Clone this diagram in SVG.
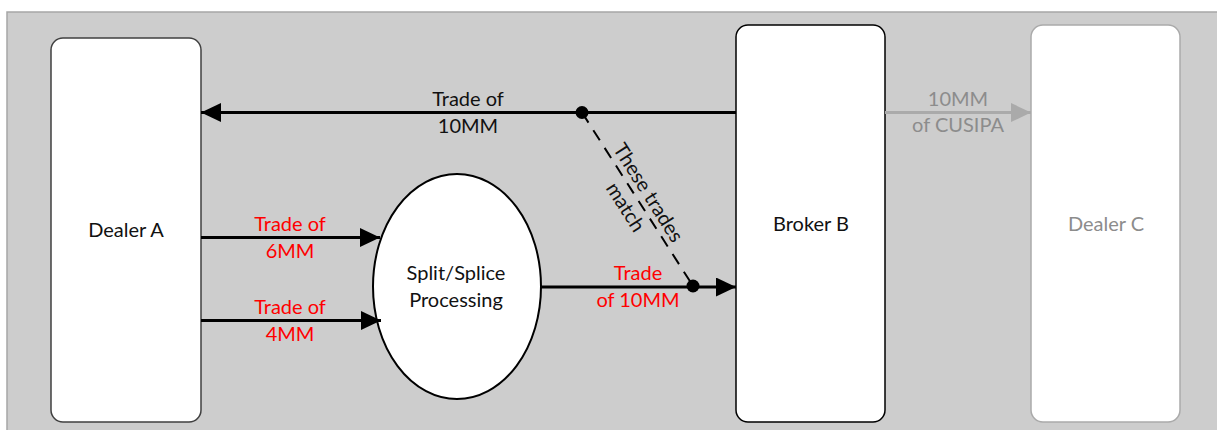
<svg xmlns="http://www.w3.org/2000/svg" width="1217" height="430" viewBox="0 0 1217 430">
  <style>
    .lbl { font-family: Lato, "Open Sans", "Liberation Sans", sans-serif; font-size: 20px; text-anchor: middle; }
    .dark { fill: #111111; }
    .red { fill: #ff0000; }
    .muted { fill: #8c8c8c; }
    .box { fill: #ffffff; stroke-width: 1.5; }
    .flow { stroke: #000000; stroke-width: 3; fill: none; }
  </style>
  <defs>
    <marker id="arrow" markerUnits="userSpaceOnUse" markerWidth="21" markerHeight="20" refX="20" refY="9.5" orient="auto">
      <path d="M0,0 L20,9.5 L0,19 Z" fill="#000000"/>
    </marker>
    <marker id="arrowGrey" markerUnits="userSpaceOnUse" markerWidth="21" markerHeight="20" refX="20" refY="9.5" orient="auto">
      <path d="M0,0 L20,9.5 L0,19 Z" fill="#aaaaaa"/>
    </marker>
  </defs>

  <!-- canvas -->
  <rect x="0" y="0" width="1217" height="430" fill="#ffffff"/>
  <rect x="7" y="12" width="1220" height="430" fill="#cdcdcd" stroke="#a6a6a6" stroke-width="1.5"/>

  <!-- nodes -->
  <g id="dealer-a">
    <rect class="box" x="51" y="38" width="150" height="384" rx="12" stroke="#404040"/>
    <text class="lbl dark" x="126" y="237">Dealer A</text>
  </g>
  <g id="split-splice">
    <ellipse cx="457" cy="286.5" rx="84" ry="112.5" fill="#ffffff" stroke="#000000" stroke-width="2"/>
    <text class="lbl dark" x="456" y="280">Split/Splice</text>
    <text class="lbl dark" x="456" y="307">Processing</text>
  </g>
  <g id="broker-b">
    <rect class="box" x="736" y="25" width="149" height="397" rx="12" stroke="#000000"/>
    <text class="lbl dark" x="811" y="231">Broker B</text>
  </g>
  <g id="dealer-c">
    <rect class="box" x="1031" y="25" width="149" height="397" rx="12" stroke="#aaaaaa"/>
    <text class="lbl muted" x="1106" y="231">Dealer C</text>
  </g>

  <!-- connectors -->
  <g id="connectors">
    <!-- Broker B back to Dealer A -->
    <line class="flow" x1="736" y1="112.5" x2="201" y2="112.5" marker-end="url(#arrow)"/>
    <text class="lbl dark" x="468" y="106">Trade of</text>
    <text class="lbl dark" x="468" y="133">10MM</text>

    <!-- Dealer A into processing -->
    <line class="flow" x1="201" y1="237.5" x2="380" y2="237.5" marker-end="url(#arrow)"/>
    <text class="lbl red" x="290" y="231">Trade of</text>
    <text class="lbl red" x="290" y="258">6MM</text>
    <line class="flow" x1="201" y1="320.5" x2="381" y2="320.5" marker-end="url(#arrow)"/>
    <text class="lbl red" x="290" y="314">Trade of</text>
    <text class="lbl red" x="290" y="341">4MM</text>

    <!-- processing to Broker B -->
    <line class="flow" x1="541" y1="287" x2="736" y2="287" marker-end="url(#arrow)"/>
    <text class="lbl red" x="638" y="280">Trade</text>
    <text class="lbl red" x="638" y="307">of 10MM</text>

    <!-- Broker B to Dealer C -->
    <line x1="885" y1="112.5" x2="1031" y2="112.5" stroke="#aaaaaa" stroke-width="3" marker-end="url(#arrowGrey)"/>
    <text class="lbl muted" x="958" y="106">10MM</text>
    <text class="lbl muted" x="958" y="132">of CUSIPA</text>

    <!-- match link between the two trades -->
    <line x1="582" y1="112.5" x2="693" y2="286" stroke="#000000" stroke-width="2" stroke-dasharray="12 9"/>
    <circle cx="582" cy="112.5" r="6.5" fill="#000000"/>
    <circle cx="693" cy="286" r="6.5" fill="#000000"/>
    <g transform="translate(637.5 199.5) rotate(57.6)">
      <text class="lbl dark" x="0" y="-6">These trades</text>
      <text class="lbl dark" x="0" y="21">match</text>
    </g>
  </g>
</svg>
